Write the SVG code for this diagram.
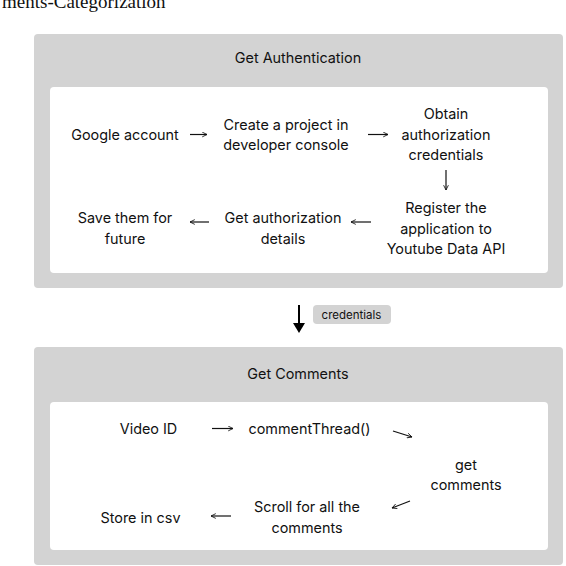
<svg xmlns="http://www.w3.org/2000/svg" width="566" height="566" viewBox="0 0 566 566">
<defs>
<style>
.outer{fill:#d3d3d3}
.inner{fill:#ffffff}
.t{font-family:Inter,"Noto Sans","DejaVu Sans",sans-serif;font-size:14.4px;fill:#111;text-anchor:middle}
.title{font-family:"Liberation Serif",serif;font-size:19px;fill:#111}
.arr{stroke:#111;stroke-width:1.2;fill:none;marker-end:url(#head)}
.pill{fill:#d3d3d3}
.lbl{font-family:Inter,"Noto Sans",sans-serif;font-size:11.5px;fill:#111;text-anchor:middle}
</style>
<marker id="head" viewBox="0 0 10 10" refX="9" refY="5" markerWidth="6" markerHeight="6" orient="auto" markerUnits="userSpaceOnUse">
<path d="M1,1 L9,5 L1,9" fill="none" stroke="#111" stroke-width="1.4"/>
</marker>
</defs>
<text class="title" x="2" y="8">ments-Categorization</text>

<g id="auth">
<rect class="outer" x="34" y="34" width="529" height="254" rx="4"/>
<text class="t" x="298" y="63">Get Authentication</text>
<rect class="inner" x="50" y="87" width="498" height="186" rx="4"/>
</g>
<g id="google"><text class="t" x="125" y="139.5">Google account</text></g>
<g id="create"><text class="t" x="286" y="129.5">Create a project in</text><text class="t" x="286" y="150">developer console</text></g>
<g id="obtain"><text class="t" x="446" y="119">Obtain</text><text class="t" x="446" y="139.5">authorization</text><text class="t" x="446" y="160">credentials</text></g>
<g id="register"><text class="t" x="446" y="213">Register the</text><text class="t" x="446" y="234">application to</text><text class="t" x="446" y="254">Youtube Data API</text></g>
<g id="getauth"><text class="t" x="283" y="223">Get authorization</text><text class="t" x="283" y="244">details</text></g>
<g id="save"><text class="t" x="125" y="223">Save them for</text><text class="t" x="125" y="244">future</text></g>

<g id="comments">
<rect class="outer" x="34" y="347" width="529" height="218" rx="4"/>
<text class="t" x="298" y="379">Get Comments</text>
<rect class="inner" x="50" y="402" width="498" height="148" rx="4"/>
</g>
<g id="videoid"><text class="t" x="148.5" y="434">Video ID</text></g>
<g id="thread"><text class="t" x="309.5" y="434">commentThread()</text></g>
<g id="get"><text class="t" x="466" y="470">get</text><text class="t" x="466" y="490">comments</text></g>
<g id="scroll"><text class="t" x="307" y="512">Scroll for all the</text><text class="t" x="307" y="532.5">comments</text></g>
<g id="store"><text class="t" x="140.5" y="523">Store in csv</text></g>

<g id="connectors">
<line class="arr" x1="190" y1="134.5" x2="207" y2="134.5"/>
<line class="arr" x1="368" y1="134.5" x2="388" y2="134.5"/>
<line class="arr" x1="446" y1="170" x2="446" y2="190"/>
<line class="arr" x1="371" y1="222" x2="351" y2="222"/>
<line class="arr" x1="209" y1="222" x2="190" y2="222"/>
<line stroke="#000" stroke-width="2" x1="299" y1="305" x2="299" y2="324"/>
<polygon points="293,323 305,323 299,333" fill="#000"/>
<rect class="pill" x="313" y="305" width="78" height="19" rx="4"/>
<text class="lbl" x="351.5" y="318.5">credentials</text>
<line class="arr" x1="212" y1="428.5" x2="233" y2="428.5"/>
<line class="arr" x1="393" y1="431" x2="412" y2="437"/>
<line class="arr" x1="410" y1="501" x2="392" y2="508"/>
<line class="arr" x1="231" y1="516" x2="211" y2="516"/>
</g>
</svg>
